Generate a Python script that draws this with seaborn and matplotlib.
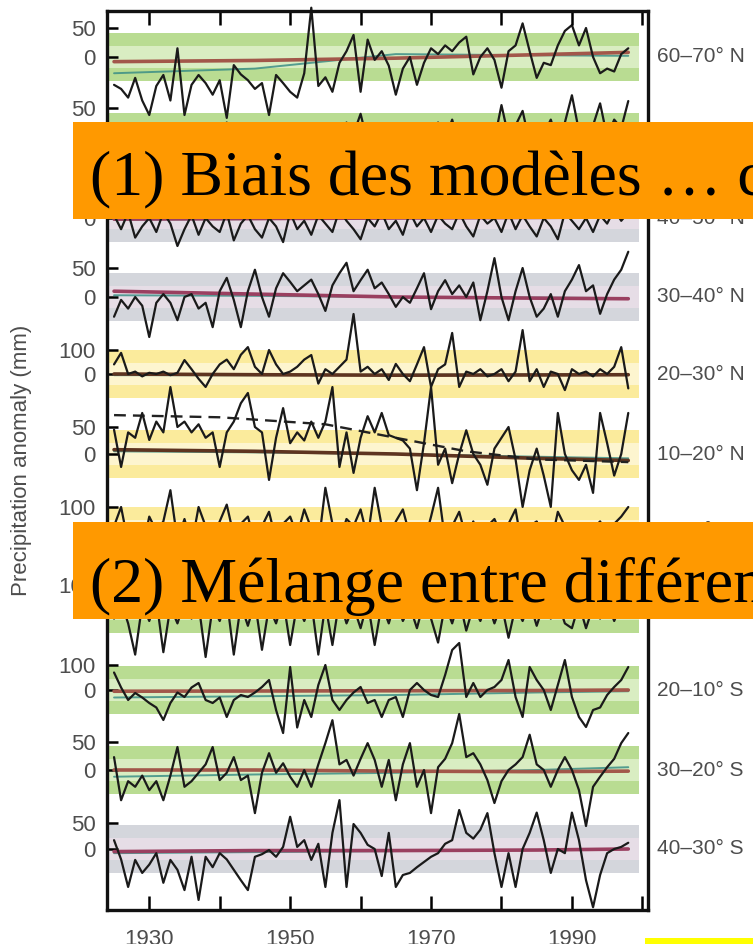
import matplotlib
matplotlib.use("Agg")
import matplotlib.pyplot as plt
from matplotlib.patches import Rectangle
import seaborn as sns
import pandas as pd

# ---------------- data ----------------
YEARS = list(range(1925, 1999))

LAT_BANDS = ["60–70° N", "50–60° N", "40–50° N", "30–40° N", "20–30° N", "10–20° N",
             "0–10° N", "10–0° S", "20–10° S", "30–20° S", "40–30° S"]
TICK_TOP = [50, 50, 50, 50, 100, 50, 100, 100, 100, 50, 50]

OBS_60_70N = [-48, -55, -70, -36, -75, -100, -50, -31, -75, 15,
              -100, -48, -31, -45, -65, -40, -105, -14, -30, -40,
              -55, -45, -100, -31, -45, -60, -70, -28, 85, -50,
              -35, -60, -10, 10, 38, -60, 30, -5, 10, -15,
              -65, -20, 0, -48, -10, 15, 5, 20, 10, 25,
              35, -30, 0, 15, -5, -53, 10, 20, 58, 10,
              -36, -10, -14, 20, 45, 55, 20, 50, 0, -28,
              -20, -25, 5, 15]
OBS_50_60N = [10, -20, 5, -30, 15, 20, -10, 0, -25, 10,
              5, -15, 20, -5, -30, 10, 25, -20, 0, 15,
              -10, 5, 20, -25, 10, -5, 15, -30, 0, 20,
              -15, 10, -20, 25, 5, 40, -10, 15, -25, 5,
              20, -10, 0, 15, -20, 10, 25, -5, 30, -15,
              10, 20, -10, 15, -5, 55, 0, 20, 45, -10,
              15, 5, 30, -10, 25, 72, 10, -5, 20, 58,
              0, 30, 15, 62]
OBS_40_50N = [5, -20, 10, -35, -15, 0, -25, 10, -10, -50,
              -20, 5, -30, 0, -15, -25, 10, -40, -10, 5,
              -20, -35, 0, -15, -43, 10, -20, -5, -30, 5,
              -10, -25, 15, -5, -20, -38, 0, -15, 10, -20,
              -5, -30, 10, -15, 0, -25, 5, -10, -20, 10,
              -15, -33, 5, -10, 0, -25, 10, -20, 5, -15,
              -33, 0, -15, -38, 10, -5, -20, 0, -25, 5,
              -10, 15, -5, 10]
OBS_30_40N = [-34, -5, -20, 0, -15, -69, -10, 5, -10, -40,
              0, 5, -20, -10, -52, 10, 33, -5, -52, 10,
              47, 0, -34, 15, 41, 26, 10, 20, 30, 5,
              -24, 20, 41, 59, 10, 29, 47, 15, 25, 5,
              -17, 0, -10, 15, 41, -21, 10, 29, 5, 20,
              0, 25, -40, 10, 67, 0, -40, 10, 50, 0,
              -34, -20, 5, -34, 10, 30, 55, 10, 20, -29,
              5, 30, 47, 78]
OBS_20_30N = [40, 88, 0, 10, -10, 5, 0, 10, -5, 5,
              58, 20, -20, -54, 0, 40, 60, 20, 80, 112,
              30, 0, 100, 40, 0, 10, 30, 60, 79, -40,
              20, 0, 30, 60, 250, 10, 30, 0, 20, -25,
              42, 0, -30, 40, 112, -54, 20, 40, 171, -54,
              10, 0, 20, -10, 0, 20, -30, 10, 183, -30,
              20, -54, 10, 0, -67, 20, 0, 10, -10, 20,
              0, 30, 112, -60]
OBS_10_20N = [45, -24, 40, 30, 76, 26, 60, 40, 124, 50,
              60, 40, 55, 30, 40, -24, 40, 60, 94, 113,
              50, 40, -48, 30, 85, 20, 40, 25, 60, 30,
              60, 124, -24, 40, -35, 30, 70, 40, 76, 35,
              30, 25, 10, -67, 20, 124, -20, 10, -54, 0,
              44, 0, -20, -57, 10, 30, 50, -10, -98, -30,
              10, -40, -98, 76, 0, -30, -48, -20, -72, 76,
              20, -40, 0, 76]
OBS_0_10N = [20, 100, -50, 30, -80, 60, 0, 40, 170, -40,
             50, -60, 100, 20, -30, 40, 110, -20, 30, 60,
             -50, 20, 80, -40, 30, 60, -20, 90, 10, -60,
             180, 30, -40, 50, 20, 90, -30, 180, 20, -60,
             40, 90, -20, 30, -50, 60, 180, -40, 20, 80,
             -30, 40, -60, 20, 50, -20, 30, 90, -80, 20,
             40, -30, -60, 80, 20, -40, 30, -50, 10, 40,
             -20, 30, 60, 100]
OBS_10_0S = [-40, 30, -60, -190, 20, -50, 40, -180, 10, -60,
             30, -40, 20, -200, 10, -50, 40, -190, 20, -70,
             30, -170, 10, -60, 40, -150, 20, -50, 30, -190,
             20, -150, 40, -60, 10, -80, 30, -150, 20, -60,
             40, -50, 10, -80, 30, -40, -140, 20, -60, 40,
             -90, 10, -50, 30, -60, 20, -120, 10, -50, 30,
             -70, 20, -40, 30, -60, -80, 20, -80, 10, -40,
             30, -50, 20, -30]
OBS_20_10S = [70, 10, -40, -12, -30, -52, -70, -120, -52, -10,
              -28, 10, 28, -40, -52, -30, -108, -40, -20, -28,
              -10, 12, 40, -80, -172, 92, -150, -40, -108, 20,
              100, -40, -80, -40, -10, 12, -52, -40, -108, -40,
              -28, -108, 0, 28, 0, -20, -28, 60, 160, 188,
              -28, 28, -28, 0, 12, 40, 120, -28, -108, 92,
              40, 0, -80, 20, 120, -28, -108, -148, -80, -70,
              -20, 12, 40, 92]
OBS_30_20S = [23, -54, -20, -30, -10, -36, -20, -54, -10, 41,
              -30, -20, -5, 10, 41, -18, -5, 23, -18, -10,
              -77, -5, 30, -5, 12, -12, -30, 0, -30, 10,
              48, 89, 10, 18, -10, 20, 48, 18, -30, 18,
              -54, 10, 48, -30, 0, -77, 5, 20, 48, 100,
              23, 30, 10, -18, -59, -20, 0, 10, 23, 63,
              10, 0, -30, 0, 23, 0, -36, -100, -30, -12,
              5, 20, 48, 66]
OBS_40_30S = [17, -20, -73, -21, -46, -30, -8, -65, -21, -40,
              -79, -15, -98, -15, -35, -8, -20, -40, -60, -79,
              -15, -10, -2, -15, 4, 62, 4, 17, -21, 10,
              -73, 31, 94, -73, 48, 31, 8, 0, -52, 31,
              -73, -50, -46, -35, -25, -15, -8, 10, 17, 75,
              31, 20, 37, 69, -8, -73, -8, -73, 0, 31,
              70, 17, -46, 0, -8, 70, 17, -60, -112, -50,
              -8, 0, 4, 12]

# smoothed model curves (anchor years)
MODEL_YEARS = [1925, 1945, 1965, 1985, 1998]
MODEL_RED = [[-8, -6, -2, 4, 8], [-4, -2, 0, 3, 6], [-2, -1, 0, 1, 2], [10, 5, 0, -2, -3],
             [0, -3, -5, -4, -3], [8, 5, 0, -8, -12], [0, 0, 0, 0, 0], [0, 0, 0, 0, 0],
             [-5, -4, -3, -2, 0], [0, 0, -2, -3, -2], [-5, -3, -3, -2, 0]]
MODEL_TEAL = [[-28, -20, 5, 3, 2], [-5, -3, 0, 2, 4], [-3, -2, 0, 1, 1], [3, 2, 0, -1, -2],
              [-5, -5, -3, -2, 0], [5, 3, 0, -5, -8], [-10, -8, -5, -3, 0], [-20, -15, -10, -5, 0],
              [-30, -25, -20, -10, -5], [-12, -8, -5, 0, 5], [-8, -6, -4, -2, 0]]
# dashed smoothed observations, 10-20N
DASH_YEARS = [1925, 1940, 1955, 1965, 1975, 1985, 1998]
DASH_10_20N = [72, 68, 55, 30, 5, -10, -15]

OBS = [OBS_60_70N, OBS_50_60N, OBS_40_50N, OBS_30_40N, OBS_20_30N, OBS_10_20N,
       OBS_0_10N, OBS_10_0S, OBS_20_10S, OBS_30_20S, OBS_40_30S]

# ---------------- layout / style ----------------
W, H = 753, 944
FRAME_L, FRAME_R, FRAME_T, FRAME_B = 107, 648, 11, 910
CENTERS = [57, 137, 218, 297, 374, 454, 531, 609, 690, 770, 849]
PX_PER_MM = [0.58, 0.58, 0.56, 0.58, 0.24, 0.54, 0.24, 0.24, 0.25, 0.56, 0.52]
BAND_KIND = ["g", "g", "k", "k", "y", "y", "y", "g", "g", "g", "k"]
BAND_OUTER = {"g": "#b9dc92", "y": "#fbeb9c", "k": "#d4d6dc"}
BAND_INNER = {"g": "#d9edc2", "y": "#fdf5cf", "k": "#e6dde6"}
RED_COL = {"g": "#a2574a", "y": "#5e3420", "k": "#9a3f60"}
TEAL = "#3c8f86"
GREY_TXT = "#4d4d4d"

sns.set_style("white")
plt.rcParams["font.family"] = ["Liberation Sans", "DejaVu Sans"]

fig = plt.figure(figsize=(W / 100, H / 100), dpi=100)
fig.patch.set_facecolor("white")

def fx(px):
    return px / W

def fy(py):
    return 1 - py / H

XMIN, XMAX = 1924.0, 2000.8
PANEL_H = 80

for k in range(len(LAT_BANDS)):
    c = CENTERS[k]
    s = PX_PER_MM[k]
    rect = [fx(FRAME_L), fy(c + PANEL_H / 2), fx(FRAME_R - FRAME_L), PANEL_H / H]
    half = PANEL_H / 2 / s

    # background band axes
    axb = fig.add_axes(rect, zorder=1)
    axb.set_xlim(XMIN, XMAX)
    axb.set_ylim(-half, half)
    axb.axis("off")
    kind = BAND_KIND[k]
    x0 = (1925 - XMIN) / (XMAX - XMIN) - 0.012
    x1 = (1998.6 - XMIN) / (XMAX - XMIN) + 0.012
    axb.axhspan(-24 / s, 24 / s, xmin=x0, xmax=x1, color=BAND_OUTER[kind], lw=0)
    axb.axhspan(-11 / s, 11 / s, xmin=x0, xmax=x1, color=BAND_INNER[kind], lw=0)

    # line axes
    ax = fig.add_axes(rect, zorder=2)
    ax.patch.set_alpha(0)
    df = pd.DataFrame({"year": YEARS, "anom": OBS[k]})
    dm = pd.DataFrame({"year": MODEL_YEARS, "red": MODEL_RED[k], "teal": MODEL_TEAL[k]})
    sns.lineplot(data=dm, x="year", y="teal", ax=ax, color=TEAL, lw=1.4, alpha=0.85, clip_on=False)
    sns.lineplot(data=dm, x="year", y="red", ax=ax, color=RED_COL[kind], lw=2.6, clip_on=False)
    if LAT_BANDS[k] == "10–20° N":
        dd = pd.DataFrame({"year": DASH_YEARS, "v": DASH_10_20N})
        sns.lineplot(data=dd, x="year", y="v", ax=ax, color="#222222", lw=1.7,
                     linestyle=(0, (5, 3)), clip_on=False)
    sns.lineplot(data=df, x="year", y="anom", ax=ax, color="#1a1a1a", lw=1.6, clip_on=False)
    ax.set_xlim(XMIN, XMAX)
    ax.set_ylim(-half, half)
    ax.set_xlabel("")
    ax.set_ylabel("")
    for sp in ax.spines.values():
        sp.set_visible(False)
    ax.set_xticks([])
    ax.set_yticks([0, TICK_TOP[k]])
    ax.set_yticklabels(["0", str(TICK_TOP[k])])
    ax.tick_params(axis="y", direction="in", length=8, width=1.8, color="black",
                   labelsize=16, labelcolor=GREY_TXT, pad=8, left=True)
    ax.text(1 + 9 / (FRAME_R - FRAME_L), 0.5, LAT_BANDS[k], transform=ax.transAxes,
            ha="left", va="center", fontsize=15, color=GREY_TXT)

# frame axes
axf = fig.add_axes([fx(FRAME_L), fy(FRAME_B), fx(FRAME_R - FRAME_L), (FRAME_B - FRAME_T) / H],
                   zorder=5)
axf.patch.set_alpha(0)
axf.set_xlim(XMIN, XMAX)
axf.set_ylim(0, 1)
axf.set_yticks([])
axf.set_xticks([1930, 1950, 1970, 1990])
axf.set_xticks([1940, 1960, 1980, 2000], minor=True)
axf.tick_params(axis="x", which="both", direction="in", top=True, bottom=True,
                length=10, width=1.8, color="black")
axf.tick_params(axis="x", which="major", labelsize=16, labelcolor=GREY_TXT, pad=14)
for sp in axf.spines.values():
    sp.set_visible(True)
    sp.set_linewidth(2.4)
    sp.set_color("#111111")

fig.text(fx(22), fy(460), "Precipitation anomaly (mm)", rotation=90, ha="center", va="center",
         fontsize=16, color=GREY_TXT)

# overlay boxes
ORANGE = "#ff9900"
fig.add_artist(Rectangle((fx(73), fy(219)), fx(W - 73), 97 / H, transform=fig.transFigure,
                         facecolor=ORANGE, edgecolor="none", zorder=20))
fig.add_artist(Rectangle((fx(73), fy(619)), fx(W - 73), 97 / H, transform=fig.transFigure,
                         facecolor=ORANGE, edgecolor="none", zorder=20))
fig.text(fx(90), fy(195), "(1) Biais des modèles … climatiques", fontsize=46,
         family=["Liberation Serif", "DejaVu Serif"], color="black", ha="left", va="baseline", zorder=21)
fig.text(fx(90), fy(602), "(2) Mélange entre différentes sources", fontsize=46,
         family=["Liberation Serif", "DejaVu Serif"], color="black", ha="left", va="baseline", zorder=21)
fig.add_artist(Rectangle((fx(645), 0), fx(W - 645), 6 / H, transform=fig.transFigure,
                         facecolor="#ffff00", edgecolor="none", zorder=20))

fig.savefig("out.png", dpi=100)
